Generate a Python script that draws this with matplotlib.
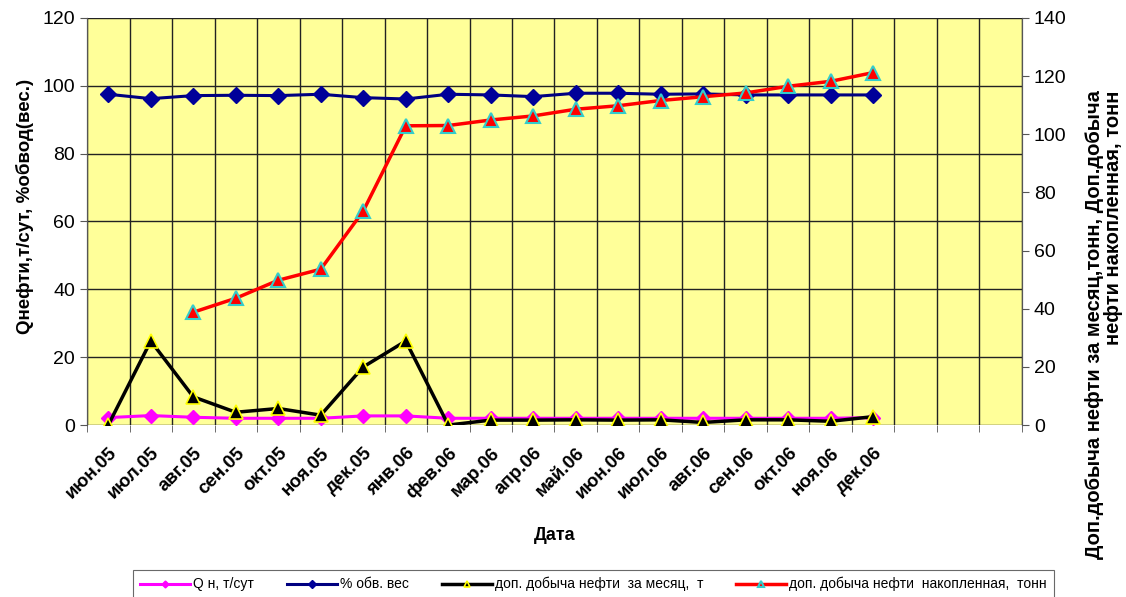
import numpy as np
from matplotlib import pyplot as plt
from matplotlib.ticker import MultipleLocator

plt.rcParams['font.family'] = ['Liberation Sans', 'DejaVu Sans']

# Months on the x axis (three empty slots are kept after the last one)
months = ['июн.05', 'июл.05', 'авг.05', 'сен.05', 'окт.05', 'ноя.05', 'дек.05',
          'янв.06', 'фев.06', 'мар.06', 'апр.06', 'май.06', 'июн.06', 'июл.06',
          'авг.06', 'сен.06', 'окт.06', 'ноя.06', 'дек.06']
n_slots = 22

# Left axis series
q_oil = [2.2, 2.8, 2.3, 2.0, 2.0, 2.0, 2.7, 2.7, 2.0, 2.0, 2.0, 2.0, 2.0, 2.0,
         2.0, 2.0, 2.0, 2.0, 2.2]
water_cut = [97.5, 96.2, 97.1, 97.2, 97.1, 97.5, 96.5, 96.1, 97.5, 97.3, 96.8,
             97.8, 97.8, 97.5, 97.6, 97.3, 97.3, 97.3, 97.3]

# Right axis series
extra_month = [0.0, 28.9, 9.7, 4.4, 5.7, 3.4, 20.0, 28.9, 0.0, 1.7, 1.7, 1.8,
               1.7, 1.8, 0.9, 1.8, 1.8, 1.3, 2.9]
extra_cum = [None, None, 38.8, 43.6, 49.8, 53.6, 73.6, 102.9, 103.0, 104.9,
             106.3, 108.6, 109.8, 111.6, 112.9, 114.2, 116.5, 118.2, 121.2]

x = np.arange(len(months))
cum = np.array([np.nan if v is None else v for v in extra_cum])

fig = plt.figure(figsize=(11.26, 5.97), dpi=100)
ax = fig.add_axes([0.0773, 0.288, 0.8303, 0.682])
ax2 = ax.twinx()
ax.set_facecolor('#FFFF99')

ax.plot(x, q_oil, color='#FF00FF', lw=2.2, marker='D', ms=7,
        mfc='#FF00FF', mec='#FF00FF', label='Q н, т/сут', zorder=3)
ax.plot(x, water_cut, color='#000080', lw=2.2, marker='D', ms=8,
        mfc='#000099', mec='#000099', label='% обв. вес', zorder=3)
l3, = ax2.plot(x, extra_month, color='black', lw=2.5, marker='^', ms=10,
               mfc='black', mec='#FFFF00', mew=1.2,
               label='доп. добыча нефти  за месяц,  т')
l4, = ax2.plot(x, cum, color='#FF0000', lw=2.5, marker='^', ms=10,
               mfc='#FF0000', mec='#33CCCC', mew=1.5,
               label='доп. добыча нефти  накопленная,  тонн')

ax.set_xlim(-0.5, n_slots - 0.5)
ax.set_ylim(0, 120)
ax2.set_ylim(0, 140)
ax.yaxis.set_major_locator(MultipleLocator(20))
ax2.yaxis.set_major_locator(MultipleLocator(20))

# category labels at centres, tick marks and grid on the boundaries
ax.set_xticks(x)
ax.set_xticklabels(months, rotation=45, ha='right', rotation_mode='anchor',
                   fontsize=13.5, fontweight='bold')
ax.set_xticks(np.arange(n_slots + 1) - 0.5, minor=True)
ax.tick_params(axis='x', which='major', length=0, pad=14)
ax.tick_params(axis='x', which='minor', length=5, direction='out', color='#555555')
ax.grid(True, which='minor', axis='x', color='#222222', lw=1)
ax.grid(True, which='major', axis='y', color='#222222', lw=1)
ax.set_axisbelow(True)

ax.tick_params(axis='y', labelsize=14, length=5, color='#555555')
ax2.tick_params(axis='y', labelsize=14, length=5, color='#555555')
for a in (ax, ax2):
    for side in ('top', 'bottom'):
        a.spines[side].set_visible(False)
    a.spines['left'].set_color('#555555')
    a.spines['right'].set_color('#555555')

ax.set_xlabel('Дата', fontsize=13, fontweight='bold', labelpad=18)
ax.set_ylabel('Qнефти,т/сут, %обвод(вес.)', fontsize=13.5, fontweight='bold')
ax.yaxis.set_label_coords(-0.057, 0.536)
fig.text(0.9805, 0.849, 'Доп.добыча нефти за месяц,тонн, Доп.добыча\nнефти накопленная, тонн',
         rotation=90, ha='center', va='top', fontsize=14.5, fontweight='bold',
         multialignment='right', linespacing=1.0)

handles = ax.get_lines()[:2] + [l3, l4]
leg = fig.legend(handles=handles, loc='lower center', ncol=4,
                 bbox_to_anchor=(0.527, -0.014), frameon=True, fancybox=False,
                 edgecolor='#444444', handlelength=3.6, columnspacing=2.4,
                 handletextpad=0.2, markerscale=0.5, borderpad=0.5,
                 prop={'size': 10})
leg.get_frame().set_linewidth(0.8)

fig.savefig('out.png', dpi=100)
